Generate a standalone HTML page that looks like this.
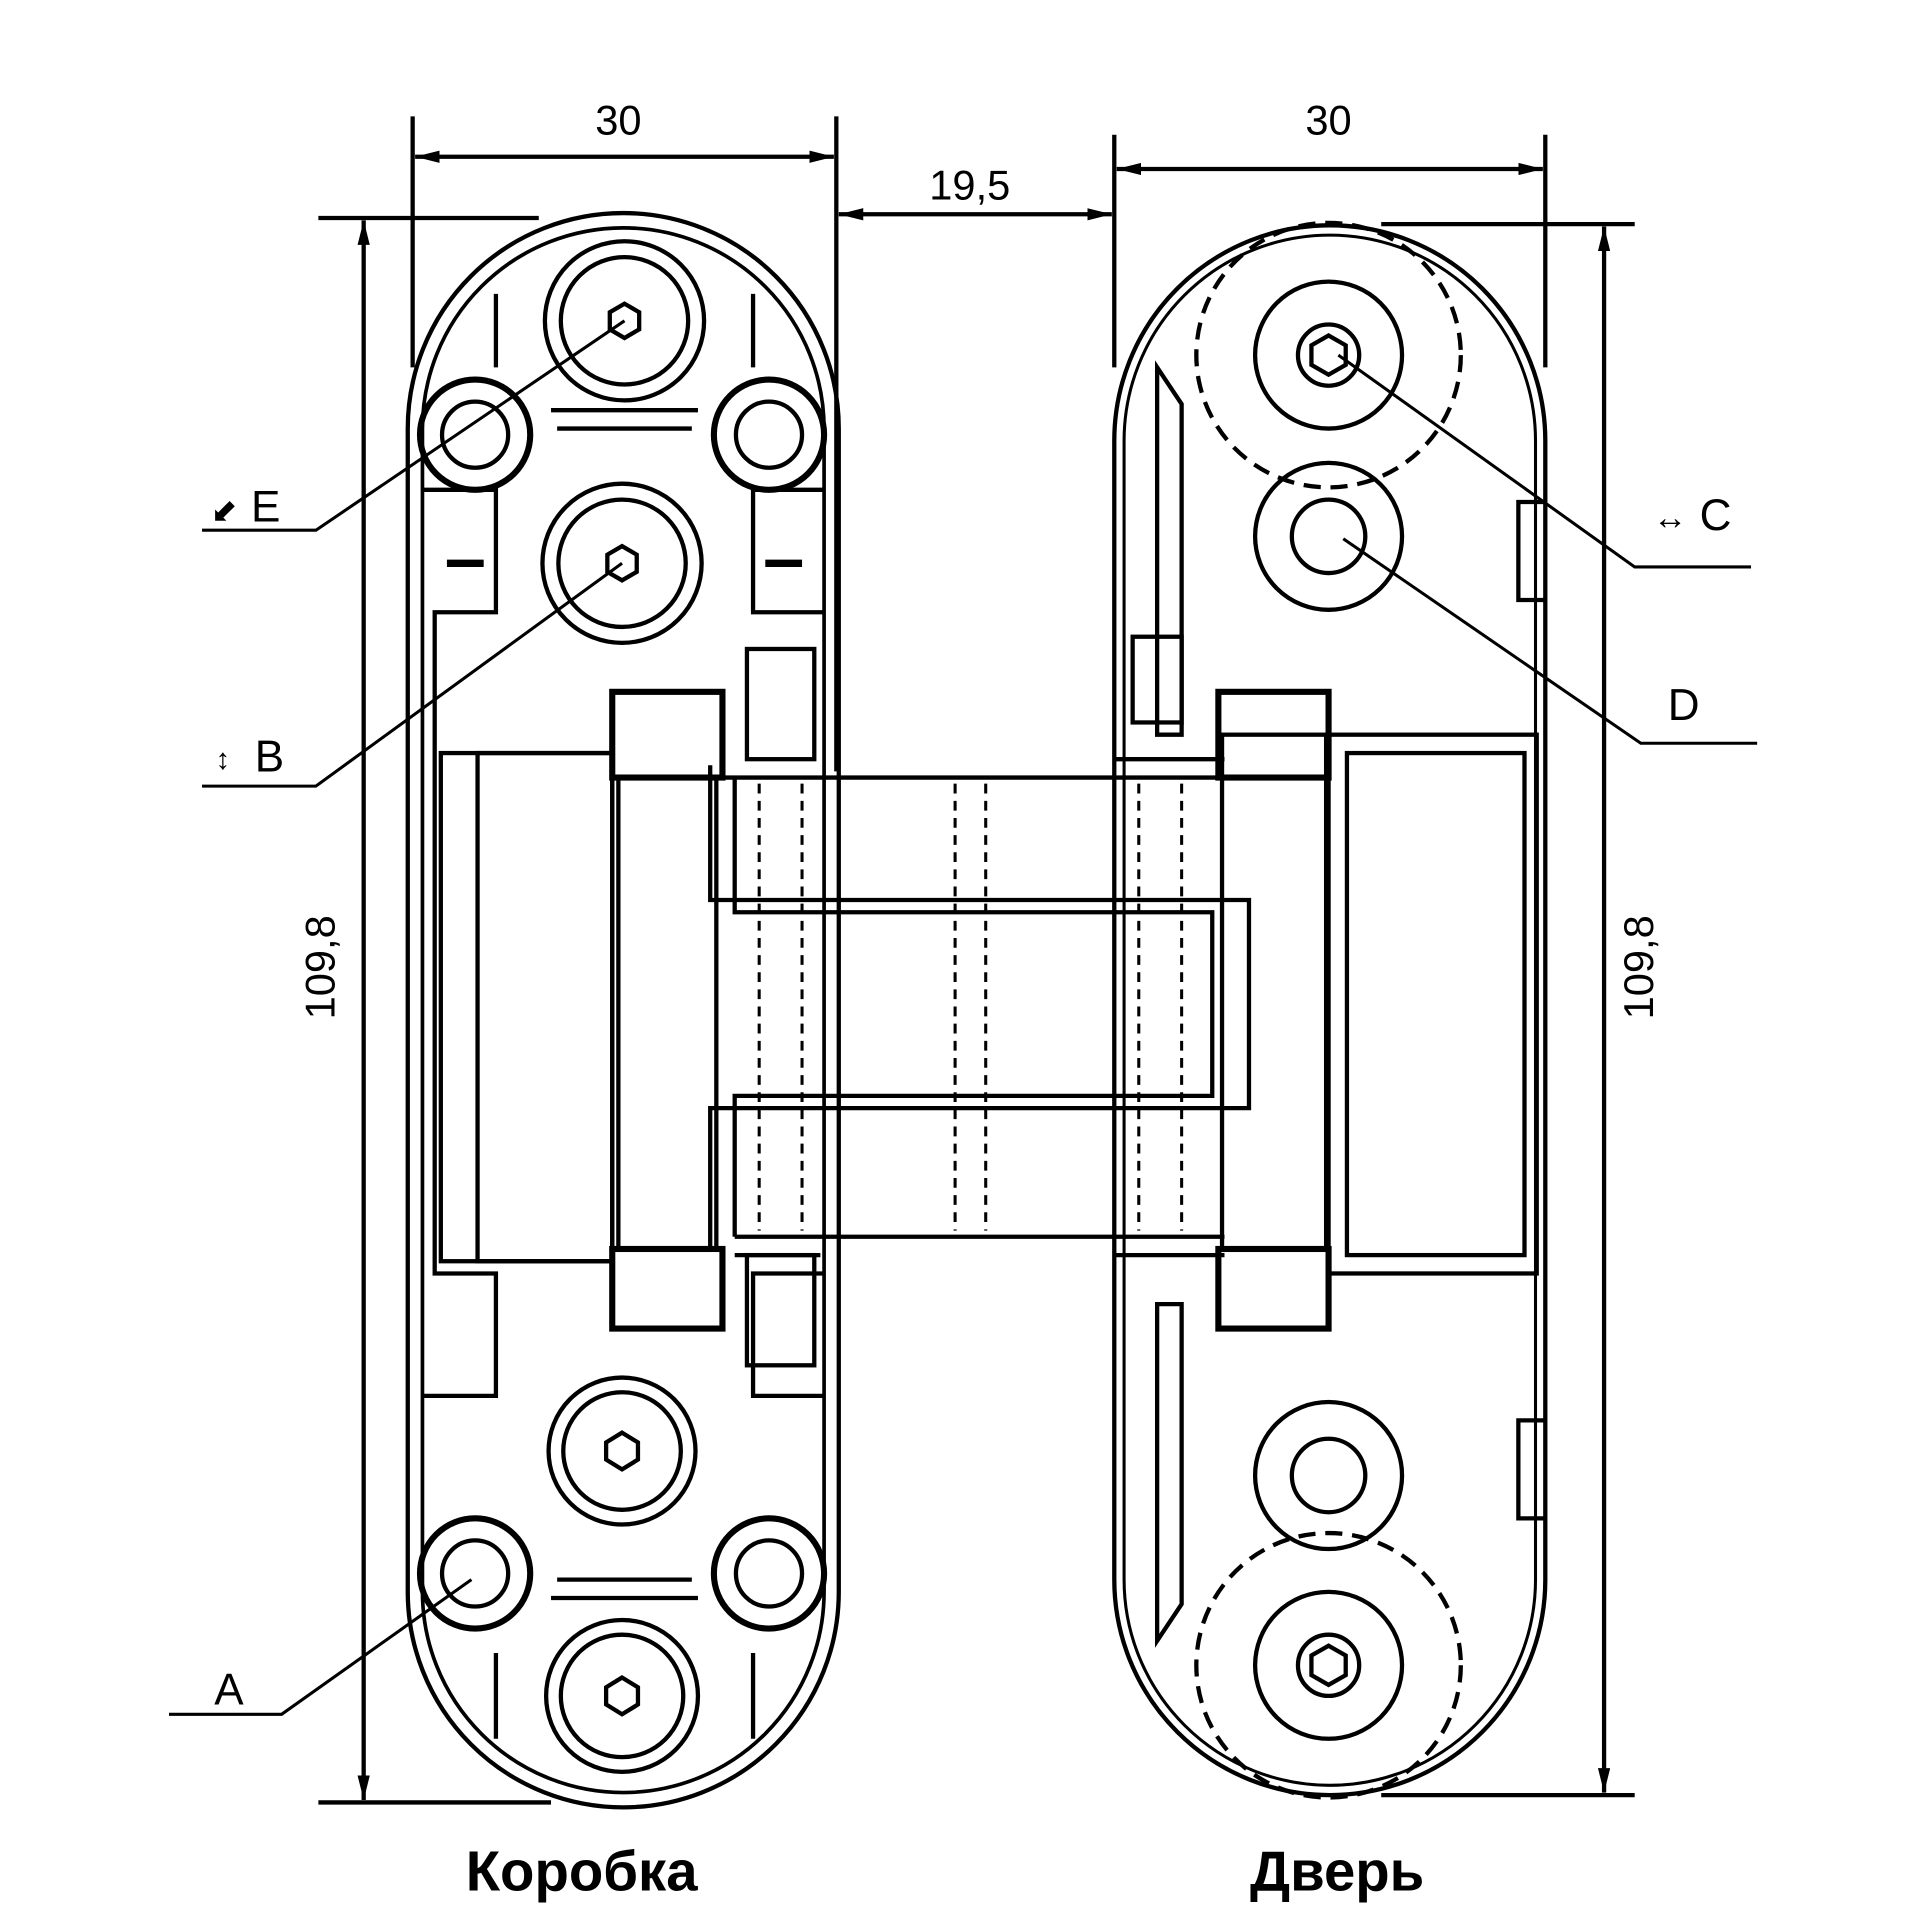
<!DOCTYPE html>
<html><head><meta charset="utf-8"><style>html,body{margin:0;padding:0;background:#fff}svg{display:block}</style></head>
<body>
<svg width="1920" height="1920" viewBox="0 0 1568 1568" xmlns="http://www.w3.org/2000/svg" font-family="Liberation Sans, sans-serif">
<defs><marker id="ar" viewBox="0 0 20 10" refX="20" refY="5" markerWidth="20" markerHeight="10" markerUnits="userSpaceOnUse" orient="auto-start-reverse"><path d="M0,0 L20,5 L0,10 z" fill="#000"/></marker></defs>
<rect width="1568" height="1568" fill="#fff"/>
<g stroke="#000" fill="none" stroke-width="3.5">
<line x1="337" y1="95" x2="337" y2="300"/><line x1="683" y1="95" x2="683" y2="630"/>
<line x1="339" y1="128" x2="681" y2="128" marker-start="url(#ar)" marker-end="url(#ar)"/>
<line x1="685" y1="175" x2="908" y2="175" marker-start="url(#ar)" marker-end="url(#ar)"/>
<line x1="910" y1="110" x2="910" y2="300"/><line x1="1262" y1="110" x2="1262" y2="300"/>
<line x1="912" y1="138" x2="1260" y2="138" marker-start="url(#ar)" marker-end="url(#ar)"/>
<line x1="297" y1="180" x2="297" y2="1470" marker-start="url(#ar)" marker-end="url(#ar)"/>
<line x1="260" y1="178" x2="440" y2="178"/><line x1="260" y1="1472" x2="450" y2="1472"/>
<line x1="1310" y1="185" x2="1310" y2="1464" marker-start="url(#ar)" marker-end="url(#ar)"/>
<line x1="1128" y1="183" x2="1335" y2="183"/><line x1="1128" y1="1466" x2="1335" y2="1466"/>
<path d="M333,350 A176,176 0 0 1 685,350 L685,1300 A176,176 0 0 1 333,1300 Z"/>
<path d="M345,350 A164,164 0 0 1 673,350 L673,1300 A164,164 0 0 1 345,1300 Z" stroke-width="3"/>
<path d="M405,240 L405,300 M615,240 L615,300 M405,1350 L405,1420 M615,1350 L615,1420"/>
<circle cx="510" cy="262" r="65"/><circle cx="510" cy="262" r="52"/><polygon points="510,248 522,255 522,269 510,276 498,269 498,255"/>
<circle cx="508" cy="460" r="65"/><circle cx="508" cy="460" r="52"/><polygon points="508,446 520,453 520,467 508,474 496,467 496,453"/>
<circle cx="508" cy="1185" r="60"/><circle cx="508" cy="1185" r="48"/><polygon points="508,1170 521,1178 521,1192 508,1200 495,1192 495,1178"/>
<circle cx="508" cy="1385" r="62"/><circle cx="508" cy="1385" r="50"/><polygon points="508,1370 521,1378 521,1392 508,1400 495,1392 495,1378"/>
<circle cx="388" cy="355" r="45" stroke-width="5"/><circle cx="388" cy="355" r="27"/>
<circle cx="628" cy="355" r="45" stroke-width="5"/><circle cx="628" cy="355" r="27"/>
<circle cx="388" cy="1285" r="45" stroke-width="5"/><circle cx="388" cy="1285" r="27"/>
<circle cx="628" cy="1285" r="45" stroke-width="5"/><circle cx="628" cy="1285" r="27"/>
<path d="M450,335 L570,335 M455,350 L565,350 M450,1305 L570,1305 M455,1290 L565,1290"/>
<path d="M345,400 L405,400 L405,500 L355,500 L355,1040 L405,1040 L405,1140 L345,1140"/>
<path d="M673,400 L615,400 L615,500 L673,500 M673,1140 L615,1140 L615,1040 L673,1040"/>
<line x1="365" y1="460" x2="395" y2="460" stroke-width="6"/><line x1="625" y1="460" x2="655" y2="460" stroke-width="6"/>
<rect x="360" y="615" width="140" height="415"/><rect x="390" y="615" width="110" height="415"/>
<rect x="610" y="530" width="55" height="90"/><rect x="610" y="1025" width="55" height="90"/>
<path d="M910,360 A176,176 0 0 1 1262,360 L1262,1290 A176,176 0 0 1 910,1290 Z"/>
<path d="M918,360 A168,168 0 0 1 1254,360 L1254,1290 A168,168 0 0 1 918,1290 Z" stroke-width="2.5"/>
<circle cx="1085" cy="290" r="108" stroke-dasharray="14,8"/><circle cx="1085" cy="1360" r="108" stroke-dasharray="14,8"/>
<circle cx="1085" cy="290" r="60"/><circle cx="1085" cy="290" r="25"/><polygon points="1085,274 1099,282 1099,298 1085,306 1071,298 1071,282"/>
<circle cx="1085" cy="438" r="60"/><circle cx="1085" cy="438" r="30"/>
<circle cx="1085" cy="1205" r="60"/><circle cx="1085" cy="1205" r="30"/>
<circle cx="1085" cy="1360" r="60"/><circle cx="1085" cy="1360" r="25"/><polygon points="1085,1344 1099,1352 1099,1368 1085,1376 1071,1368 1071,1352"/>
<path d="M945,300 L965,330 L965,600 L945,600 Z M945,1340 L965,1310 L965,1065 L945,1065 Z"/>
<path d="M1262,410 L1240,410 L1240,490 L1262,490 M1262,1160 L1240,1160 L1240,1240 L1262,1240"/>
<rect x="1085" y="600" width="170" height="440"/><rect x="1100" y="615" width="145" height="410"/>
<rect x="925" y="520" width="40" height="70"/>
<rect x="500" y="565" width="90" height="70" stroke-width="5"/><rect x="500" y="1020" width="90" height="65" stroke-width="5"/>
<rect x="995" y="565" width="90" height="70" stroke-width="5"/><rect x="995" y="1020" width="90" height="65" stroke-width="5"/>
<rect x="505" y="635" width="80" height="385"/><rect x="998" y="600" width="85" height="420"/>
<path d="M580,635 L1000,635 M600,1010 L1000,1010"/>
<path d="M580,625 L580,735 L1020,735 L1020,905 L580,905 L580,1020"/>
<path d="M600,635 L600,745 L990,745 L990,895 L600,895 L600,1010"/>
<path d="M910,620 L1000,620 M910,1025 L1000,1025 M600,1025 L670,1025"/>
<g stroke-dasharray="8,6" stroke-width="2.5">
<line x1="620" y1="640" x2="620" y2="1005"/><line x1="655" y1="640" x2="655" y2="1005"/>
<line x1="780" y1="640" x2="780" y2="1005"/><line x1="805" y1="640" x2="805" y2="1005"/>
<line x1="930" y1="640" x2="930" y2="1005"/><line x1="965" y1="640" x2="965" y2="1005"/>
</g>
<path d="M165,433 L258,433 L510,262" stroke-width="2.5"/>
<path d="M165,642 L258,642 L508,460" stroke-width="2.5"/>
<path d="M138,1400 L230,1400 L385,1290" stroke-width="2.5"/>
<path d="M1430,463 L1335,463 L1093,290" stroke-width="2.5"/>
<path d="M1435,607 L1340,607 L1097,440" stroke-width="2.5"/>
</g>
<g fill="#000" font-size="34">
<text x="505" y="110" text-anchor="middle">30</text>
<text x="792" y="163" text-anchor="middle">19,5</text>
<text x="1085" y="110" text-anchor="middle">30</text>
<text transform="translate(273,790) rotate(-90)" text-anchor="middle">109,8</text>
<text transform="translate(1350,790) rotate(-90)" text-anchor="middle">109,8</text>
<text x="205" y="426" font-size="36">E</text><text x="172" y="426" font-size="26">⬋</text>
<text x="208" y="630" font-size="36">B</text><text x="176" y="628" font-size="24">↕</text>
<text x="175" y="1392" font-size="36">A</text>
<text x="1388" y="433" font-size="36">C</text><text x="1350" y="432" font-size="28">↔</text>
<text x="1362" y="588" font-size="36">D</text>
<text x="475" y="1544" text-anchor="middle" font-weight="bold" font-size="46">Коробка</text>
<text x="1092" y="1544" text-anchor="middle" font-weight="bold" font-size="46">Дверь</text>
</g>
</svg>
</body></html>
